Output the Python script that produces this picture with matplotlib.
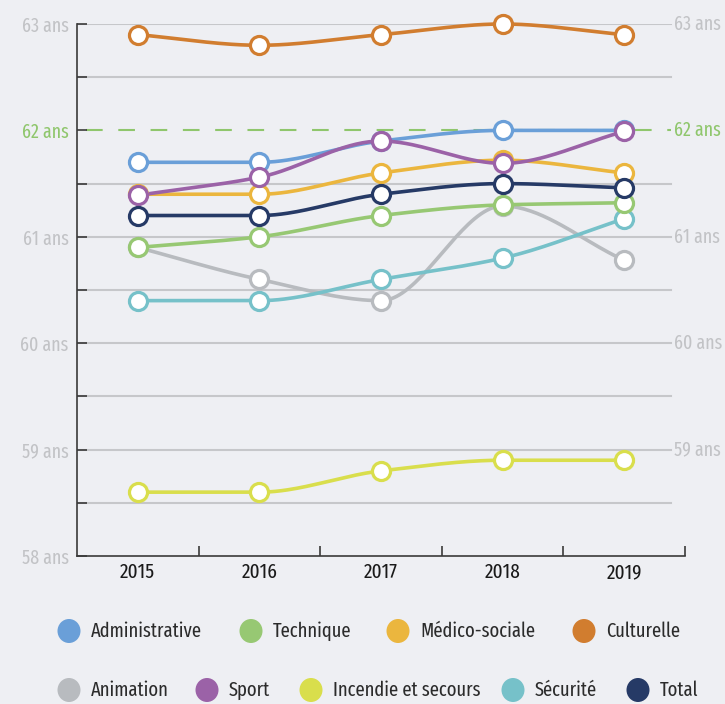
import numpy as np
import matplotlib
matplotlib.use("Agg")
import matplotlib.pyplot as plt
from matplotlib.patches import Ellipse
from matplotlib import font_manager

# --- data: average age per filière ---
years = [2015, 2016, 2017, 2018, 2019]
administrative = [61.7, 61.7, 61.9, 62.0, 62.0]
technique = [60.9, 61.0, 61.2, 61.3, 61.32]
medico_sociale = [61.4, 61.4, 61.6, 61.72, 61.6]
culturelle = [62.9, 62.8, 62.9, 63.0, 62.9]
animation = [60.9, 60.6, 60.4, 61.29, 60.78]
sport = [61.39, 61.56, 61.9, 61.69, 61.99]
incendie = [58.6, 58.6, 58.8, 58.9, 58.9]
securite = [60.4, 60.4, 60.6, 60.8, 61.17]
total = [61.2, 61.2, 61.4, 61.5, 61.46]

y_ticks = [58, 59, 60, 61, 62, 63]
y_labels = ["58 ans", "59 ans", "60 ans", "61 ans", "62 ans", "63 ans"]

series = {
    "Administrative": (administrative, "#6a9fd8"),
    "Technique": (technique, "#97c873"),
    "Médico-sociale": (medico_sociale, "#ebb63e"),
    "Culturelle": (culturelle, "#d17d2f"),
    "Animation": (animation, "#b8bbbf"),
    "Sport": (sport, "#9b62a7"),
    "Incendie et secours": (incendie, "#d9de4c"),
    "Sécurité": (securite, "#76c1c9"),
    "Total": (total, "#263a66"),
}
draw_order = ["Animation", "Sécurité", "Technique", "Incendie et secours",
              "Médico-sociale", "Administrative", "Sport", "Culturelle", "Total"]

# condensed face if available
names = {f.name for f in font_manager.fontManager.ttflist}
for cand in ["Fira Sans Extra Condensed", "PT Sans Narrow", "Roboto Condensed"]:
    if cand in names:
        plt.rcParams["font.family"] = [cand, "DejaVu Sans"]
        break

BG = "#eeeff3"
GRID = "#c6c7ca"
LABEL = "#c2c3c6"
GREEN = "#8fc66c"


def monotone_curve(x, y, n=40):
    # Fritsch-Carlson monotone cubic between the yearly points
    x = np.asarray(x, float)
    y = np.asarray(y, float)
    h = np.diff(x)
    d = np.diff(y) / h
    m = np.zeros_like(y)
    m[0], m[-1] = d[0], d[-1]
    for i in range(1, len(y) - 1):
        if d[i - 1] * d[i] <= 0:
            m[i] = 0
        else:
            w1 = 2 * h[i] + h[i - 1]
            w2 = h[i] + 2 * h[i - 1]
            m[i] = (w1 + w2) / (w1 / d[i - 1] + w2 / d[i])
    xs, ys = [], []
    for i in range(len(x) - 1):
        t = np.linspace(0, 1, n)
        h00 = 2 * t**3 - 3 * t**2 + 1
        h10 = t**3 - 2 * t**2 + t
        h01 = -2 * t**3 + 3 * t**2
        h11 = t**3 - t**2
        xs.append(x[i] + t * h[i])
        ys.append(h00 * y[i] + h10 * h[i] * m[i] + h01 * y[i + 1] + h11 * h[i] * m[i + 1])
    return np.concatenate(xs), np.concatenate(ys)


fig = plt.figure(figsize=(7.25, 7.04), dpi=100, facecolor=BG)
W, H = 725, 704
ax = fig.add_axes([77 / W, (H - 556) / H, 608 / W, 532 / H])
ax.set_facecolor(BG)
ax.set_xlim(2014.5, 2019.5)
ax.set_ylim(58, 63)

# horizontal grid every half year of age, stopping short of the right labels
grid_end = (671 - 77) / 608
for v in np.arange(58.5, 63.01, 0.5):
    if v == 62:
        ax.axhline(v, xmin=0.015, xmax=grid_end, color=GREEN, lw=1.5,
                   ls=(0, (8, 7.5)), zorder=1)
    else:
        ax.axhline(v, xmin=0, xmax=grid_end, color=GRID, lw=1.5, zorder=1)

for name in draw_order:
    vals, col = series[name]
    cx, cy = monotone_curve(years, vals)
    ax.plot(cx, cy, color=col, lw=2.6, solid_capstyle="round", zorder=3, clip_on=False)
    ax.plot(years, vals, ls="none", marker="o", ms=13, mfc="white", mec=col,
            mew=2.3, zorder=4, clip_on=False)

for s in ["top", "right"]:
    ax.spines[s].set_visible(False)
for s in ["left", "bottom"]:
    ax.spines[s].set_color("#3a3a3a")
    ax.spines[s].set_linewidth(1.2)

ax.set_yticks(y_ticks)
ax.set_yticklabels(y_labels)
ax.set_yticks(np.arange(58.5, 63, 1.0), minor=True)
ax.tick_params(axis="y", which="both", direction="in", length=7, width=1.2,
               color="#3a3a3a", labelsize=14, labelcolor=LABEL, pad=6)
for lbl in ax.get_yticklabels():
    if lbl.get_text() == "62 ans":
        lbl.set_color(GREEN)

ax.set_xticks(years)
ax.set_xticklabels([str(y) for y in years])
ax.set_xticks(np.arange(2015.5, 2019.6, 1.0), minor=True)
ax.tick_params(axis="x", which="major", length=0, labelsize=15,
               labelcolor="#1a1a1a", pad=5)
ax.tick_params(axis="x", which="minor", direction="in", length=7, width=1.2,
               color="#3a3a3a")

# right-hand labels
for v, t in zip(y_ticks[1:], y_labels[1:]):
    ax.text((674 - 77) / 608, v, t, transform=ax.get_yaxis_transform(),
            ha="left", va="center", fontsize=14,
            color=GREEN if v == 62 else LABEL, clip_on=False)

# legend, two rows of filled dots
lg = fig.add_axes([0, 0, 1, 1], facecolor="none")
lg.set_xlim(0, W)
lg.set_ylim(H, 0)
lg.axis("off")
rows = [
    (631, [("Administrative", 69), ("Technique", 251), ("Médico-sociale", 398),
           ("Culturelle", 584)]),
    (690, [("Animation", 69), ("Sport", 207), ("Incendie et secours", 311),
           ("Sécurité", 513), ("Total", 638)]),
]
for y, items in rows:
    for name, x in items:
        lg.add_patch(Ellipse((x, y), 23, 24, color=series[name][1], lw=0))
        lg.text(x + 22, y, name, ha="left", va="center", fontsize=14.5,
                color="#2b2b2b")

fig.savefig("out.png", dpi=100, facecolor=BG)
